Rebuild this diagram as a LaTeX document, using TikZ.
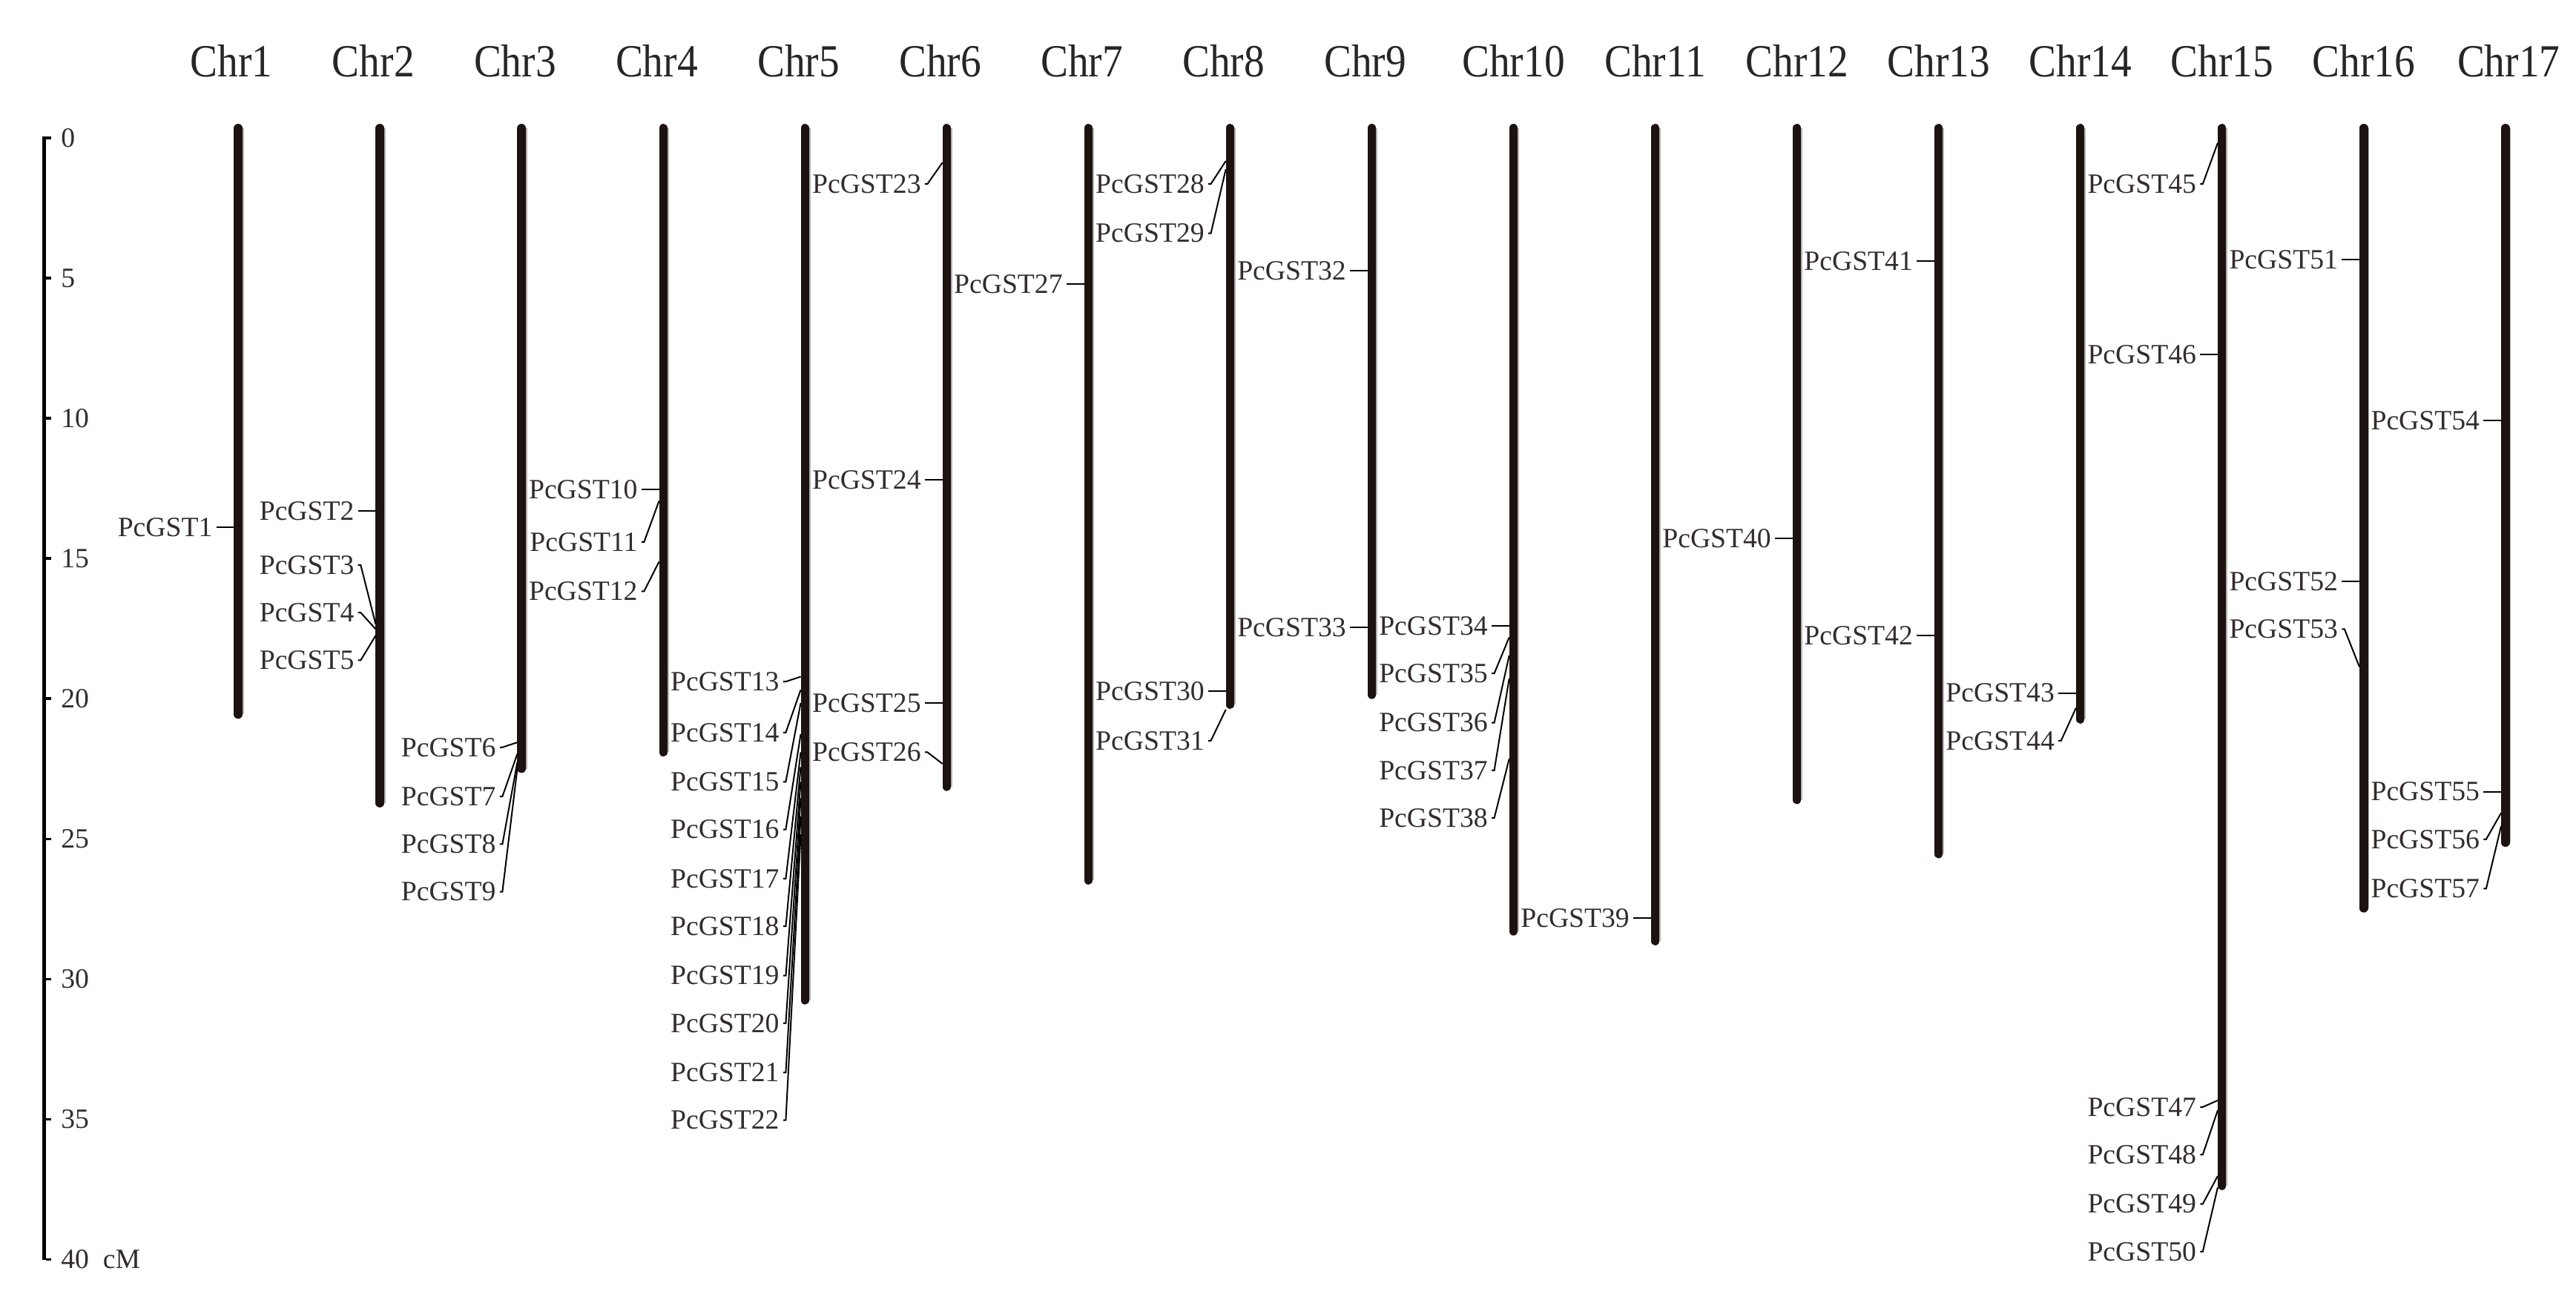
\documentclass[tikz,border=0pt]{standalone}
\usepackage{fontspec}
\setmainfont{Liberation Serif}
\definecolor{chrcol}{RGB}{28,18,16}
\definecolor{txtcol}{RGB}{52,44,44}
\begin{document}
\begin{tikzpicture}[x=1pt,y=-1pt,
  chrom/.style={line width=5.2pt,line cap=round,draw=chrcol},
  chromedge/.style={line width=0.9pt,draw=black!30},
  glab/.style={inner sep=0pt,anchor=east,text=txtcol,font=\fontsize{17}{17}\selectfont},
  chrlab/.style={inner sep=0pt,text=black!85,font=\fontsize{25}{25}\selectfont},
  sclab/.style={inner sep=0pt,anchor=west,text=txtcol,font=\fontsize{17}{17}\selectfont},
  conn/.style={line width=0.9pt,draw=black},
  scalebar/.style={line width=2.4pt,draw=black}]
\useasboundingbox (0,0) rectangle (1568,786);
% scale bar
\coordinate (s0) at (27,83);
\coordinate (s40) at (27,767);
\draw[scalebar] (s0) -- (s40);
\foreach \k/\lab in {0/0,1/5,2/10,3/15,4/20,5/25,6/30,7/35,8/{40~~cM}}{
  \pgfmathsetmacro\yy{84+85.35*\k}
  \coordinate (t\k) at (28,\yy);
  \draw[line width=1.6pt] (t\k) -- ++(3.2,0);
  \node[sclab] (sl\k) at (37,\yy) {\lab};
}
% chromosomes: number / bottom y / label x offset
\foreach \c/\b/\o in {1/438/-4,2/492/-4,3/471/-4,4/461/-4,5/612/-4,6/482/-4,7/539/-4,8/432/-4,9/426/-4,10/570/0,11/576/0,12/490/0,13/523/0,14/441/0,15/725/0,16/556/0,17/516/2}{
  \pgfmathsetmacro\xx{145+(\c-1)*86.25}
  \coordinate (c\c top) at (\xx,78);
  \coordinate (c\c bot) at (\xx,\b-3);
  \draw[chromedge] ([xshift=3pt]c\c top) -- ([xshift=3pt]c\c bot);
  \draw[chrom] (c\c top) -- (c\c bot);
  \node[chrlab] (chr\c) at (\xx+\o,37) {\scalebox{1}[1.12]{Chr\c}};
}
% genes: number / chromosome / label y / position y
\foreach \n/\c/\ly/\gy in {
  1/1/321/321, 2/2/311/311, 3/2/344/380, 4/2/373/383, 5/2/402/387,
  6/3/455/452, 7/3/485/459, 8/3/514/464, 9/3/543/468,
  10/4/298/298, 11/4/330/305, 12/4/360/342,
  13/5/415/412, 14/5/446/420, 15/5/476/428, 16/5/505/447, 17/5/535/458,
  18/5/564/467, 19/5/594/476, 20/5/623/486, 21/5/653/497, 22/5/682/508,
  23/6/112/99, 24/6/292/292, 25/6/428/428, 26/6/458/465,
  27/7/173/173,
  28/8/112/98, 29/8/142/103, 30/8/421/421, 31/8/451/432,
  32/9/165/165, 33/9/382/382,
  34/10/381/381, 35/10/410/388, 36/10/440/399, 37/10/469/413, 38/10/498/462,
  39/11/559/559, 40/12/328/328, 41/13/159/159, 42/13/387/387,
  43/14/422/422, 44/14/451/431,
  45/15/112/87, 46/15/216/216, 47/15/674/670, 48/15/703/676, 49/15/733/716, 50/15/762/723,
  51/16/158/158, 52/16/354/354, 53/16/383/406,
  54/17/256/256, 55/17/482/482, 56/17/511/495, 57/17/541/503}{
  \pgfmathsetmacro\xx{145+(\c-1)*86.25}
  \node[glab] (g\n) at (\xx-15.5,\ly) {PcGST\n};
  \coordinate (p\n) at (\xx-2.6,\gy);
  \draw[conn] ([xshift=2.2pt]g\n.east) -- ++(1.6,0) -- (p\n);
}
\end{tikzpicture}
\end{document}
